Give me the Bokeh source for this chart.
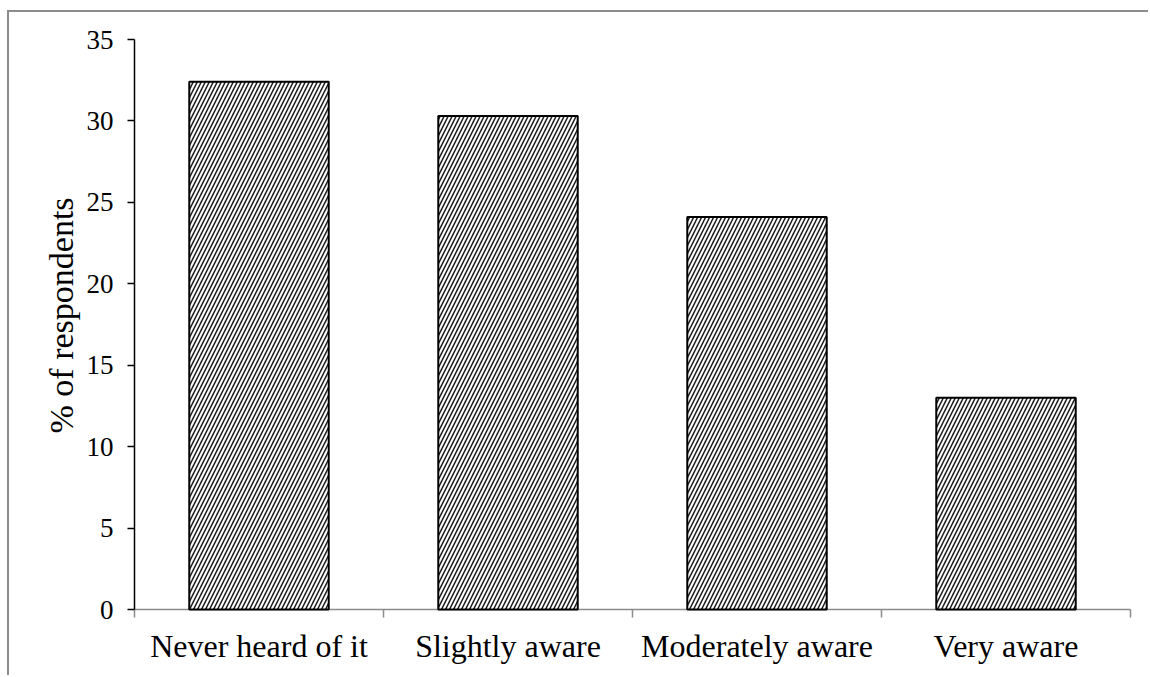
from bokeh.plotting import figure
from bokeh.models import Range1d, FixedTicker, Title, ColumnDataSource
from bokeh.embed import file_html
from bokeh.resources import INLINE

categories = ["Never heard of it", "Slightly aware", "Moderately aware", "Very aware"]
percent = [32.4, 30.3, 24.1, 13.0]
y_ticks = [0, 5, 10, 15, 20, 25, 30, 35]
y_label = "% of respondents"

FONT = "Liberation Serif"

x_pos = [i + 0.5 for i in range(len(categories))]
src = ColumnDataSource(dict(x=x_pos, top=percent))

p = figure(width=1141, height=665, output_backend="svg", toolbar_location=None,
           x_range=Range1d(0, len(categories)), y_range=Range1d(0, 35),
           min_border_left=125, min_border_right=20, min_border_top=27,
           min_border_bottom=68)
p.styles = {"margin-left": "9px", "margin-top": "12px",
            "box-shadow": "-2px -2px 0 0 #8c8c8c"}
p.outline_line_color = None
p.xgrid.visible = False
p.ygrid.visible = False
p.background_fill_color = "white"
p.border_fill_color = "white"

r = p.vbar(x="x", top="top", bottom=0, width=0.56, source=src,
           fill_color="white", line_color="black", line_width=2,
           hatch_pattern="/", hatch_color="#1a1a1a", hatch_weight=1.5,
           hatch_scale=8)
r.level = "annotation"

# y axis
ya = p.yaxis[0]
ya.ticker = FixedTicker(ticks=y_ticks)
ya.axis_line_color = "black"
ya.axis_line_width = 1.5
ya.major_tick_line_color = "black"
ya.major_tick_line_width = 1.5
ya.major_tick_out = 7
ya.major_tick_in = 0
ya.minor_tick_line_color = None
ya.major_label_text_font = FONT
ya.major_label_text_font_size = "27px"
ya.major_label_text_color = "black"
ya.major_label_standoff = 14

# x axis
xa = p.xaxis[0]
xa.ticker = FixedTicker(ticks=x_pos, minor_ticks=list(range(len(categories) + 1)))
xa.major_label_overrides = {x: c for x, c in zip(x_pos, categories)}
xa.axis_line_color = "#8c8c8c"
xa.axis_line_width = 1.5
xa.major_tick_line_color = None
xa.major_tick_out = 0
xa.major_tick_in = 0
xa.minor_tick_line_color = "#8c8c8c"
xa.minor_tick_line_width = 1.5
xa.minor_tick_out = 8
xa.minor_tick_in = 0
xa.major_label_text_font = FONT
xa.major_label_text_font_size = "32px"
xa.major_label_text_color = "black"
xa.major_label_standoff = 10

ytitle = Title(text=y_label, align="left", offset=176, standoff=8,
               text_font=FONT, text_font_size="34px", text_font_style="normal",
               text_color="black")
p.add_layout(ytitle, "left")

open("out.html", "w").write(file_html(p, INLINE))
